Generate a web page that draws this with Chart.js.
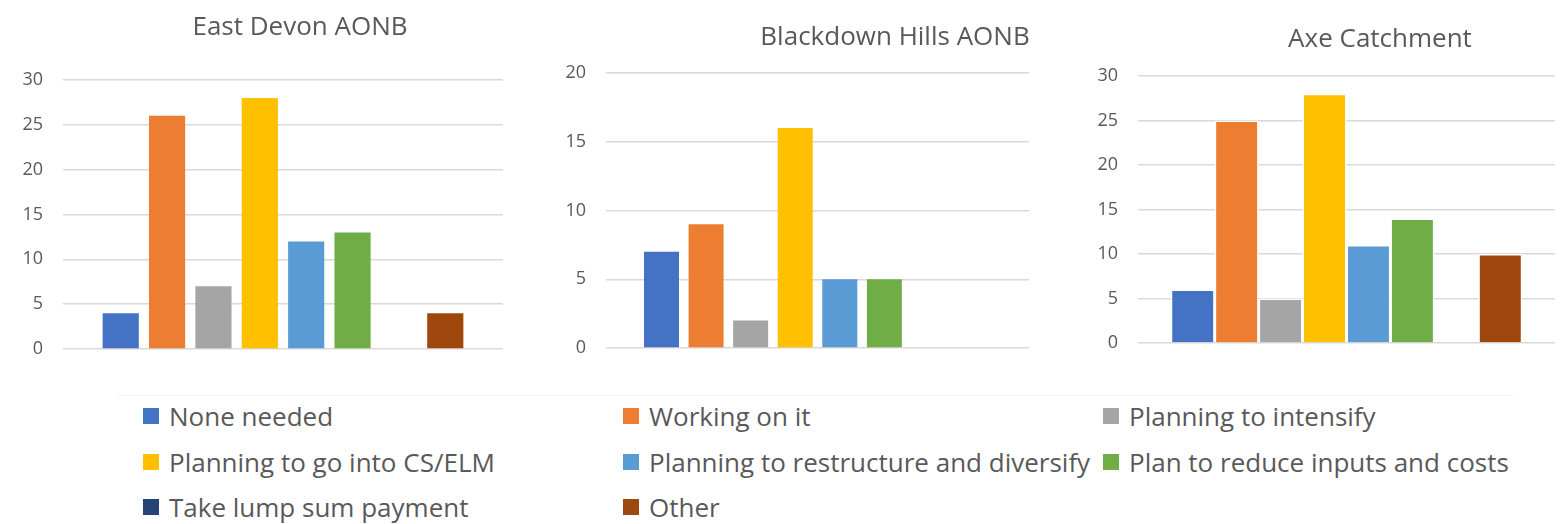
<!DOCTYPE html>
<html>
<head>
<meta charset="utf-8">
<script src="https://cdn.jsdelivr.net/npm/chart.js@4/dist/chart.umd.min.js"></script>
<style>
  html, body { margin: 0; padding: 0; background: #fff; }
  body { width: 1564px; height: 524px; position: relative; overflow: hidden;
         font-family: "Open Sans", "Noto Sans", sans-serif; color: #595959; }
  .panel { position: absolute; top: 0; height: 390px; }
  .title { position: absolute; font-size: 26px; white-space: nowrap; transform: translate(-50%, -50%); }
  .legend-line { position: absolute; left: 118px; top: 395px; width: 1395px; height: 1px; background: #f2f2f2; }
  .item { position: absolute; font-size: 26px; white-space: nowrap; display: flex; align-items: center; transform: translateY(-50%); }
  .item i { display: inline-block; width: 16px; height: 16px; margin-right: 10px; }
</style>
</head>
<body>
<div class="legend-line"></div>
<div id="legend"></div>

<script>
// series (legend entries) and their colours
const seriesNames = ['None needed', 'Working on it', 'Planning to intensify',
    'Planning to go into CS/ELM', 'Planning to restructure and diversify',
    'Plan to reduce inputs and costs', 'Take lump sum payment', 'Other'];
const seriesColors = ['#4472C4', '#ED7D31', '#A5A5A5', '#FFC000',
    '#5B9BD5', '#70AD47', '#264478', '#9E480E'];

// one value per series, per area
const eastDevon = [4, 26, 7, 28, 12, 13, 0, 4];
const blackdown = [7, 9, 2, 16, 5, 5, 0, 0];
const axe = [6, 25, 5, 28, 11, 14, 0, 10];

const titles = ['East Devon AONB', 'Blackdown Hills AONB', 'Axe Catchment'];
const yMax = [30, 20, 30];

// panel layout: where each chart sits and where its plot area lands
const panels = [
    { values: eastDevon, left: 0,    width: 520, axisW: 63, pad: { top: 80, bottom: 41, right: 17 }, titleX: 300,  titleY: 25, border: 0,   barPct: 0.78 },
    { values: blackdown, left: 520,  width: 520, axisW: 86, pad: { top: 73, bottom: 42, right: 11 }, titleX: 895,  titleY: 35, border: 0,   barPct: 0.785 },
    { values: axe,       left: 1040, width: 524, axisW: 98, pad: { top: 76, bottom: 47, right: 9 },  titleX: 1380, titleY: 37, border: 1.5, barPct: 1.0 }
];

panels.forEach((p, k) => {
    const box = document.createElement('div');
    box.className = 'panel';
    box.style.left = p.left + 'px';
    box.style.width = p.width + 'px';
    box.innerHTML = '<canvas></canvas>';
    document.body.appendChild(box);

    const t = document.createElement('div');
    t.className = 'title';
    t.textContent = titles[k];
    t.style.left = p.titleX + 'px';
    t.style.top = p.titleY + 'px';
    document.body.appendChild(t);

    new Chart(box.querySelector('canvas'), {
        type: 'bar',
        data: {
            labels: [''],
            datasets: seriesNames.map((name, i) => ({
                label: name,
                data: [p.values[i]],
                backgroundColor: seriesColors[i],
                borderColor: '#ffffff',
                borderWidth: p.border,
                categoryPercentage: 0.843,
                barPercentage: p.barPct
            }))
        },
        options: {
            responsive: true,
            maintainAspectRatio: false,
            animation: false,
            layout: { padding: { left: 0, top: p.pad.top, bottom: p.pad.bottom, right: p.pad.right } },
            plugins: { legend: { display: false }, tooltip: { enabled: false }, title: { display: false } },
            scales: {
                x: { display: false },
                y: {
                    min: 0, max: yMax[k],
                    border: { display: false },
                    grid: { color: '#d9d9d9', lineWidth: 1.5, drawTicks: false },
                    ticks: { stepSize: 5, padding: 20, color: '#595959',
                             font: { family: 'Open Sans', size: 18 } },
                    afterFit: s => { s.width = p.axisW; s.paddingTop = 0; s.paddingBottom = 0; }
                }
            }
        }
    });
});

// legend: 3 columns, row-major like the original
const colX = [143, 623, 1103];
const rowY = [416, 461.5, 506.5];
const legend = document.getElementById('legend');
seriesNames.forEach((name, i) => {
    const el = document.createElement('div');
    el.className = 'item';
    el.style.left = colX[i % 3] + 'px';
    el.style.top = rowY[Math.floor(i / 3)] + 'px';
    el.innerHTML = '<i style="background:' + seriesColors[i] + '"></i>' + name;
    legend.appendChild(el);
});
</script>
</body>
</html>
